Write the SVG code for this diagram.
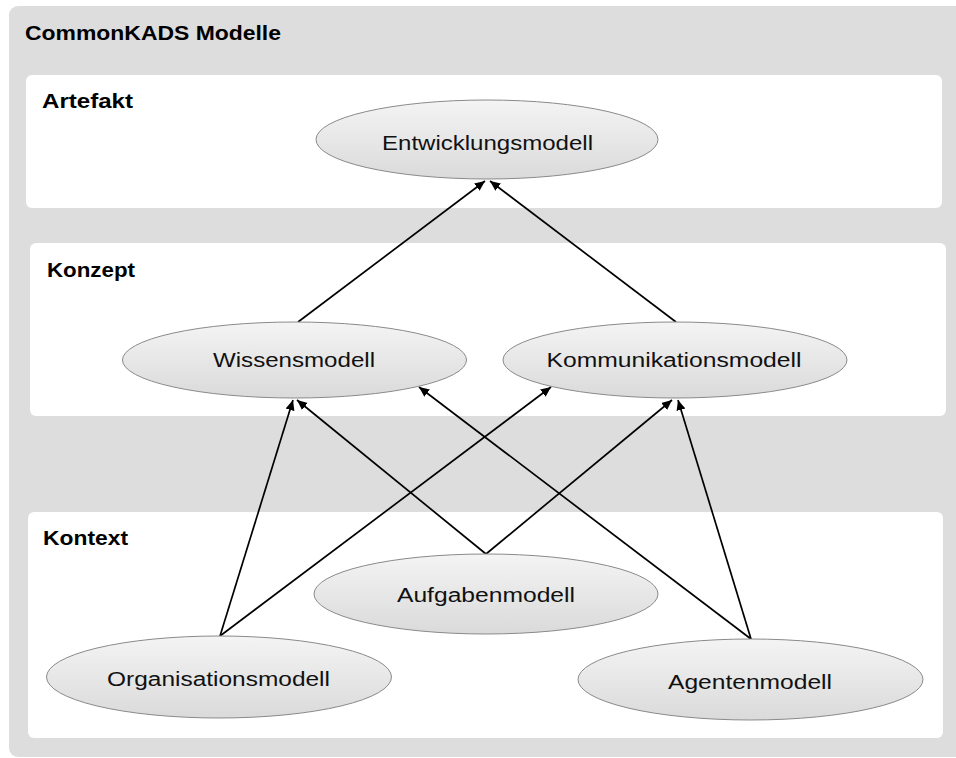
<svg xmlns="http://www.w3.org/2000/svg" width="956" height="758" viewBox="0 0 956 758">
  <defs>
    <linearGradient id="nodeFill" x1="0" y1="0" x2="0" y2="1">
      <stop offset="0" stop-color="#f4f4f4"/>
      <stop offset="1" stop-color="#dadada"/>
    </linearGradient>
    <marker id="arrow" viewBox="0 0 10 10" refX="10" refY="5" markerWidth="6" markerHeight="6" markerUnits="strokeWidth" orient="auto">
      <path d="M0,0.5 L10,5 L0,9.5 Z" fill="#000"/>
    </marker>
  </defs>
  <style>
    .frame { fill: #dddddd; }
    .layer { fill: #ffffff; }
    .node ellipse { fill: url(#nodeFill); stroke: #8a8a8a; stroke-width: 1; }
    .node text { font-family: "Liberation Sans", Arial, sans-serif; font-size: 20px; fill: #111; text-anchor: middle; }
    .heading { font-family: "Liberation Sans", Arial, sans-serif; font-size: 21px; font-weight: bold; fill: #000; }
    .edges line { stroke: #000; stroke-width: 1.7; marker-end: url(#arrow); }
  </style>

  <!-- outer frame and layer panels -->
  <rect class="frame" x="9" y="6" width="960" height="751" rx="9"/>
  <text class="heading" x="25" y="40" textLength="256" lengthAdjust="spacingAndGlyphs">CommonKADS Modelle</text>

  <g id="layer-artefakt">
    <rect class="layer" x="26" y="75" width="916" height="133" rx="6"/>
    <text class="heading" x="42" y="107.5" textLength="91" lengthAdjust="spacingAndGlyphs">Artefakt</text>
  </g>
  <g id="layer-konzept">
    <rect class="layer" x="30" y="243" width="916" height="173" rx="6"/>
    <text class="heading" x="47" y="276.5" textLength="88" lengthAdjust="spacingAndGlyphs">Konzept</text>
  </g>
  <g id="layer-kontext">
    <rect class="layer" x="28" y="512" width="915" height="226" rx="6"/>
    <text class="heading" x="43" y="545" textLength="85" lengthAdjust="spacingAndGlyphs">Kontext</text>
  </g>

  <!-- connectors -->
  <g id="edges" class="edges">
    <line x1="298" y1="322" x2="485" y2="181"/>
    <line x1="676" y1="322" x2="490" y2="181"/>
    <line x1="220" y1="636" x2="293" y2="400"/>
    <line x1="220" y1="636" x2="551" y2="387"/>
    <line x1="486" y1="554" x2="297" y2="400"/>
    <line x1="486" y1="554" x2="672" y2="400"/>
    <line x1="751" y1="639" x2="419" y2="387"/>
    <line x1="751" y1="639" x2="678" y2="400"/>
  </g>

  <!-- model nodes -->
  <g id="entwicklungsmodell" class="node">
    <ellipse cx="487" cy="139.5" rx="171" ry="39.5"/>
    <text x="487.5" y="150" textLength="211" lengthAdjust="spacingAndGlyphs">Entwicklungsmodell</text>
  </g>
  <g id="wissensmodell" class="node">
    <ellipse cx="294.5" cy="360" rx="172" ry="38"/>
    <text x="294" y="367" textLength="162" lengthAdjust="spacingAndGlyphs">Wissensmodell</text>
  </g>
  <g id="kommunikationsmodell" class="node">
    <ellipse cx="675" cy="360" rx="172" ry="38"/>
    <text x="674" y="367" textLength="255" lengthAdjust="spacingAndGlyphs">Kommunikationsmodell</text>
  </g>
  <g id="aufgabenmodell" class="node">
    <ellipse cx="486" cy="594" rx="172" ry="40"/>
    <text x="486" y="602" textLength="178" lengthAdjust="spacingAndGlyphs">Aufgabenmodell</text>
  </g>
  <g id="organisationsmodell" class="node">
    <ellipse cx="219" cy="677" rx="172.5" ry="41"/>
    <text x="218.5" y="686" textLength="223" lengthAdjust="spacingAndGlyphs">Organisationsmodell</text>
  </g>
  <g id="agentenmodell" class="node">
    <ellipse cx="750.5" cy="679.5" rx="172.5" ry="40.5"/>
    <text x="750" y="688.5" textLength="164" lengthAdjust="spacingAndGlyphs">Agentenmodell</text>
  </g>
</svg>
